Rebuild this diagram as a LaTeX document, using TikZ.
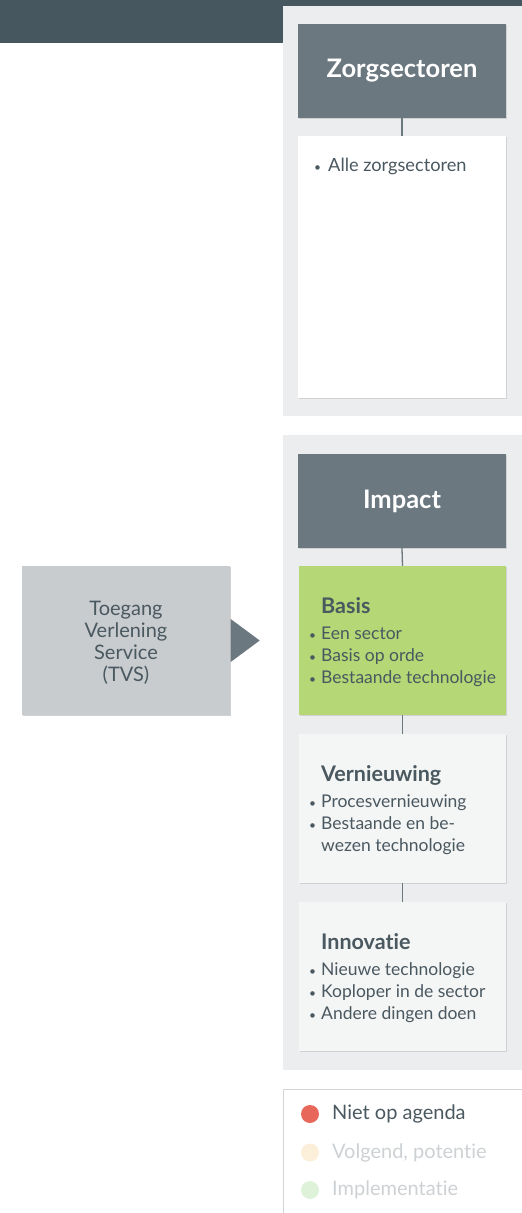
\documentclass[tikz,border=0pt]{standalone}
\usepackage{fontspec}
\setmainfont{Lato}[Ligatures=NoCommon]
\usetikzlibrary{positioning}
\definecolor{bar}{HTML}{475760}
\definecolor{panel}{HTML}{ECEDEF}
\definecolor{head}{HTML}{6B7880}
\definecolor{txt}{HTML}{4A5860}
\definecolor{green}{HTML}{B5D775}
\definecolor{light}{HTML}{F4F5F5}
\definecolor{tvs}{HTML}{C8CCCF}
\definecolor{lred}{HTML}{E8675B}
\definecolor{lyel}{HTML}{FCEFD9}
\definecolor{lgrn}{HTML}{DDF2D9}
\definecolor{fade}{HTML}{CDD1D4}
\definecolor{lborder}{HTML}{D3D6D9}
\newcommand\bl{\makebox[11pt][l]{\hspace*{-1pt}{\fontsize{12}{12}\selectfont\textbullet}}}
\newcommand\ind{\hspace*{11pt}}
\newcommand\hd[1]{\hspace*{11pt}{\fontsize{21.5}{22}\selectfont\bfseries #1}\\[4pt]}
\tikzset{
  px/.style={x=1pt,y=-1pt},
  shadowed/.style={preaction={fill=black!18,transform canvas={xshift=0.6pt,yshift=-1.2pt}}},
  headbox/.style={fill=head,draw=none,minimum width=208pt,minimum height=94pt,inner sep=0pt,
     text=white,font=\fontsize{25.5}{28}\selectfont\bfseries,shadowed},
  cardbox/.style={draw=none,minimum width=207pt,minimum height=149pt,inner sep=0pt,shadowed},
  listtext/.style={anchor=north west,align=left,inner sep=0pt,text=txt,
     font=\fontsize{17.5}{22}\selectfont},
  legtext/.style={anchor=west,inner sep=0pt,font=\fontsize{20}{22}\selectfont},
  conn/.style={draw=head,line width=1.3pt},
}
\begin{document}
\begin{tikzpicture}[px]
\useasboundingbox (0,0) rectangle (522,1213);
% top bar
\fill[bar] (0,0) rectangle (522,43);
% panels
\fill[panel] (283,6) rectangle (522,416);
\fill[panel] (283,435) rectangle (522,1070);
% column 1
\node[headbox] (zorg) at (402,71) {Zorgsectoren};
\node[cardbox,fill=white,minimum width=208pt,minimum height=262pt] (alle) at (402,267) {};
\draw[conn] (zorg.south) -- (alle.north);
\node[listtext,font=\fontsize{18.2}{22}\selectfont] (allet) at (316,158) {\makebox[12pt][l]{\hspace*{-2pt}{\fontsize{12}{12}\selectfont\textbullet}}Alle zorgsectoren};
% column 2
\node[headbox] (impact) at (402,501) {Impact};
\node[cardbox,fill=green] (basis) at (402.5,640.5) {};
\node[cardbox,fill=light] (vern) at (402.5,808.5) {};
\node[cardbox,fill=light] (innov) at (402.5,976.5) {};
\draw[conn] (impact.south) -- (basis.north);
\draw[conn] (basis.south) -- (vern.north);
\draw[conn] (vern.south) -- (innov.north);
\node[listtext] (basist) at (310,597) {\hd{Basis}
  \bl Een sector\\ \bl Basis op orde\\ \bl Bestaande technologie};
\node[listtext] (vernt) at (310,765) {\hd{Vernieuwing}
  \bl Procesvernieuwing\\ \bl Bestaande en be-\\ \ind wezen technologie};
\node[listtext] (innovt) at (310,933) {\hd{Innovatie}
  \bl Nieuwe technologie\\ \bl Koploper in de sector\\ \bl Andere dingen doen};
% TVS
\node[cardbox,fill=tvs,minimum width=208pt] (tvsbox) at (126,640.5) {};
\node[align=center,inner sep=0pt,text=txt,font=\fontsize{20}{22}\selectfont] (tvst) at (126,643)
      {Toegang\\Verlening\\Service\\(TVS)};
\fill[head] (tvsbox.east) ++(0.5,-21.5) coordinate (t1) -- ++(29,21.5) coordinate (tip) -- ++(-29,21.5) -- cycle;
% legend
\draw[lborder,line width=1pt] (522,1089.5) -- (283.5,1089.5) -- (283.5,1213);
\fill[lred] (310,1114) circle (9);
\fill[lyel] (310,1152.5) circle (9);
\fill[lgrn] (310,1190) circle (9);
\node[legtext,text=txt] (l1) at (332,1114) {Niet op agenda};
\node[legtext,text=fade] (l2) at (332,1152.5) {Volgend, potentie};
\node[legtext,text=fade] (l3) at (332,1190) {Implementatie};
\end{tikzpicture}
\end{document}
